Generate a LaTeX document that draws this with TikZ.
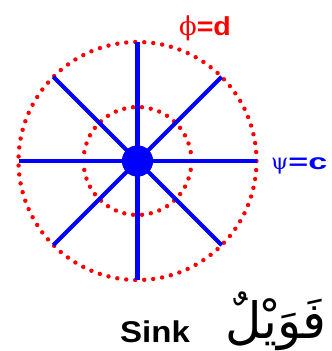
\documentclass[tikz,border=0pt]{standalone}
\usepackage{fontspec}
\setmainfont{Liberation Sans}
\newfontfamily\wideA[FakeStretch=1.1]{Liberation Sans}
\newfontfamily\wideB[FakeStretch=1.55]{Liberation Sans}
\newfontfamily\greekfont{DejaVu Serif}
\newfontfamily\arabicfont[Script=Arabic]{DejaVu Sans}
\TeXXeTstate=1

\begin{document}
\begin{tikzpicture}[x=1pt, y=1pt,
    dotring/.style={red, line width=4.4pt, line cap=round},
    spoke/.style={blue, line width=4.2pt}]
    \useasboundingbox (0,0) rectangle (332,-351);

    % centre of the sink
    \coordinate (O) at (137.5,-161);

    % dotted level curves phi = d (outer and inner ring)
    \pgfmathsetmacro{\gapout}{2*pi*119/83}
    \pgfmathsetmacro{\gapin}{2*pi*54/38}
    \draw[dotring, dash pattern=on 0pt off \gapout pt] (O) circle[radius=119];
    \draw[dotring, dash pattern=on 0pt off \gapin pt] (O) circle[radius=54];

    % streamlines psi = c: eight spokes ending on the outer ring
    \foreach \a in {0,45,...,315} {
      \coordinate (E\a) at ([shift={(\a:119)}]O);
    }
    \node[circle, fill=blue, minimum size=31, inner sep=0] (sink) at (O) {};
    \foreach \a in {0,45,...,315} {
      \draw[spoke] (sink.center) -- (E\a);
    }
    \node[circle, fill=blue, minimum size=31, inner sep=0] at (O) {};

    % labels
    \node[red, anchor=base, inner sep=0, font=\fontsize{26}{26}\selectfont] (phi) at (205,-35) {{\greekfont ϕ}{\wideA\bfseries =d}};
    \node[blue, anchor=base west, inner sep=0, font=\fontsize{22}{22}\selectfont] (psi) at (271,-169) {{\greekfont ψ}{\wideB\bfseries =c}};
    \node[anchor=base west, inner sep=0, font=\wideA\bfseries\fontsize{30}{30}\selectfont] (sinktext) at (120,-342) {Sink};
    \node[anchor=base east, inner sep=0, font=\fontsize{50}{50}\selectfont\arabicfont] (arabic) at (327,-338) {\beginR فَوَيْلٌ\endR};
\end{tikzpicture}
\end{document}
